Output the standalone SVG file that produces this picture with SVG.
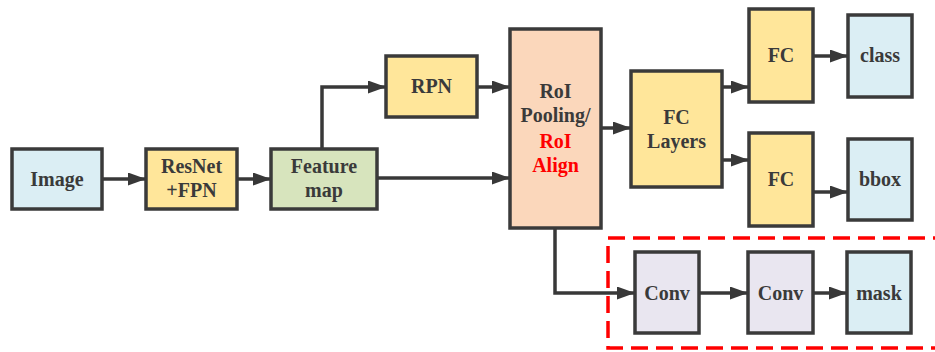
<svg xmlns="http://www.w3.org/2000/svg" width="935" height="352" viewBox="0 0 935 352">
<defs>
<marker id="ah" viewBox="0 0 18 13" refX="18" refY="6.5" markerWidth="18" markerHeight="13" markerUnits="userSpaceOnUse" orient="auto">
<path d="M0,0 L18,6.5 L0,13 Z" fill="#383838"/>
</marker>
<style>
.n{stroke:#3a3a3a;stroke-width:3.5}
.blue{fill:#DBEEF4}
.yel{fill:#FFE69A}
.grn{fill:#D7E4BD}
.pch{fill:#FBD7BB}
.lav{fill:#E9E6F0}
text{font-family:"Liberation Serif","Times New Roman",serif;font-weight:bold;font-size:20px;fill:#3a3a3a;text-anchor:middle}
.c{fill:none;stroke:#383838;stroke-width:3.5;marker-end:url(#ah)}
</style>
</defs>
<rect x="608" y="238" width="340" height="110" fill="none" stroke="#FF0000" stroke-width="3.5" stroke-dasharray="17 8"/>
<g id="connectors">
<path class="c" d="M102,179 H146"/>
<path class="c" d="M237,179 H271"/>
<path class="c" d="M322,149 V87 H386"/>
<path class="c" d="M477,87 H510"/>
<path class="c" d="M377,178 H510"/>
<path class="c" d="M601,128 H631"/>
<path class="c" d="M722,87 H749"/>
<path class="c" d="M722,160 H749"/>
<path class="c" d="M813,56 H848"/>
<path class="c" d="M813,192 H848"/>
<path class="c" d="M555,228 V293 H635"/>
<path class="c" d="M699,293 H748"/>
<path class="c" d="M813,293 H847"/>
</g>
<g id="image"><rect class="n blue" x="12" y="149" width="90" height="60"/><text x="57" y="186">Image</text></g>
<g id="resnet"><rect class="n yel" x="146" y="149" width="91" height="60"/><text x="191.5" y="173">ResNet</text><text x="191.5" y="197">+FPN</text></g>
<g id="featuremap"><rect class="n grn" x="271" y="149" width="106" height="60"/><text x="324" y="173">Feature</text><text x="324" y="197">map</text></g>
<g id="rpn"><rect class="n yel" x="386" y="56" width="91" height="61"/><text x="431.5" y="93">RPN</text></g>
<g id="roi"><rect class="n pch" x="510" y="29" width="91" height="199"/><text x="555.5" y="98">RoI</text><text x="555.5" y="122">Pooling/</text><text x="555.5" y="148" style="fill:#FF0000">RoI</text><text x="555.5" y="172" style="fill:#FF0000">Align</text></g>
<g id="fclayers"><rect class="n yel" x="631" y="71" width="91" height="116"/><text x="676.5" y="124">FC</text><text x="676.5" y="148">Layers</text></g>
<g id="fc1"><rect class="n yel" x="749" y="9" width="64" height="93"/><text x="781" y="62">FC</text></g>
<g id="fc2"><rect class="n yel" x="749" y="133" width="64" height="93"/><text x="781" y="186">FC</text></g>
<g id="class"><rect class="n blue" x="848" y="15" width="64" height="82"/><text x="880" y="62">class</text></g>
<g id="bbox"><rect class="n blue" x="848" y="139" width="64" height="81"/><text x="880" y="186">bbox</text></g>
<g id="conv1"><rect class="n lav" x="635" y="252" width="64" height="81"/><text x="667" y="300">Conv</text></g>
<g id="conv2"><rect class="n lav" x="748" y="252" width="65" height="81"/><text x="780.5" y="300">Conv</text></g>
<g id="mask"><rect class="n blue" x="847" y="252" width="64" height="81"/><text x="879" y="300">mask</text></g>
</svg>
